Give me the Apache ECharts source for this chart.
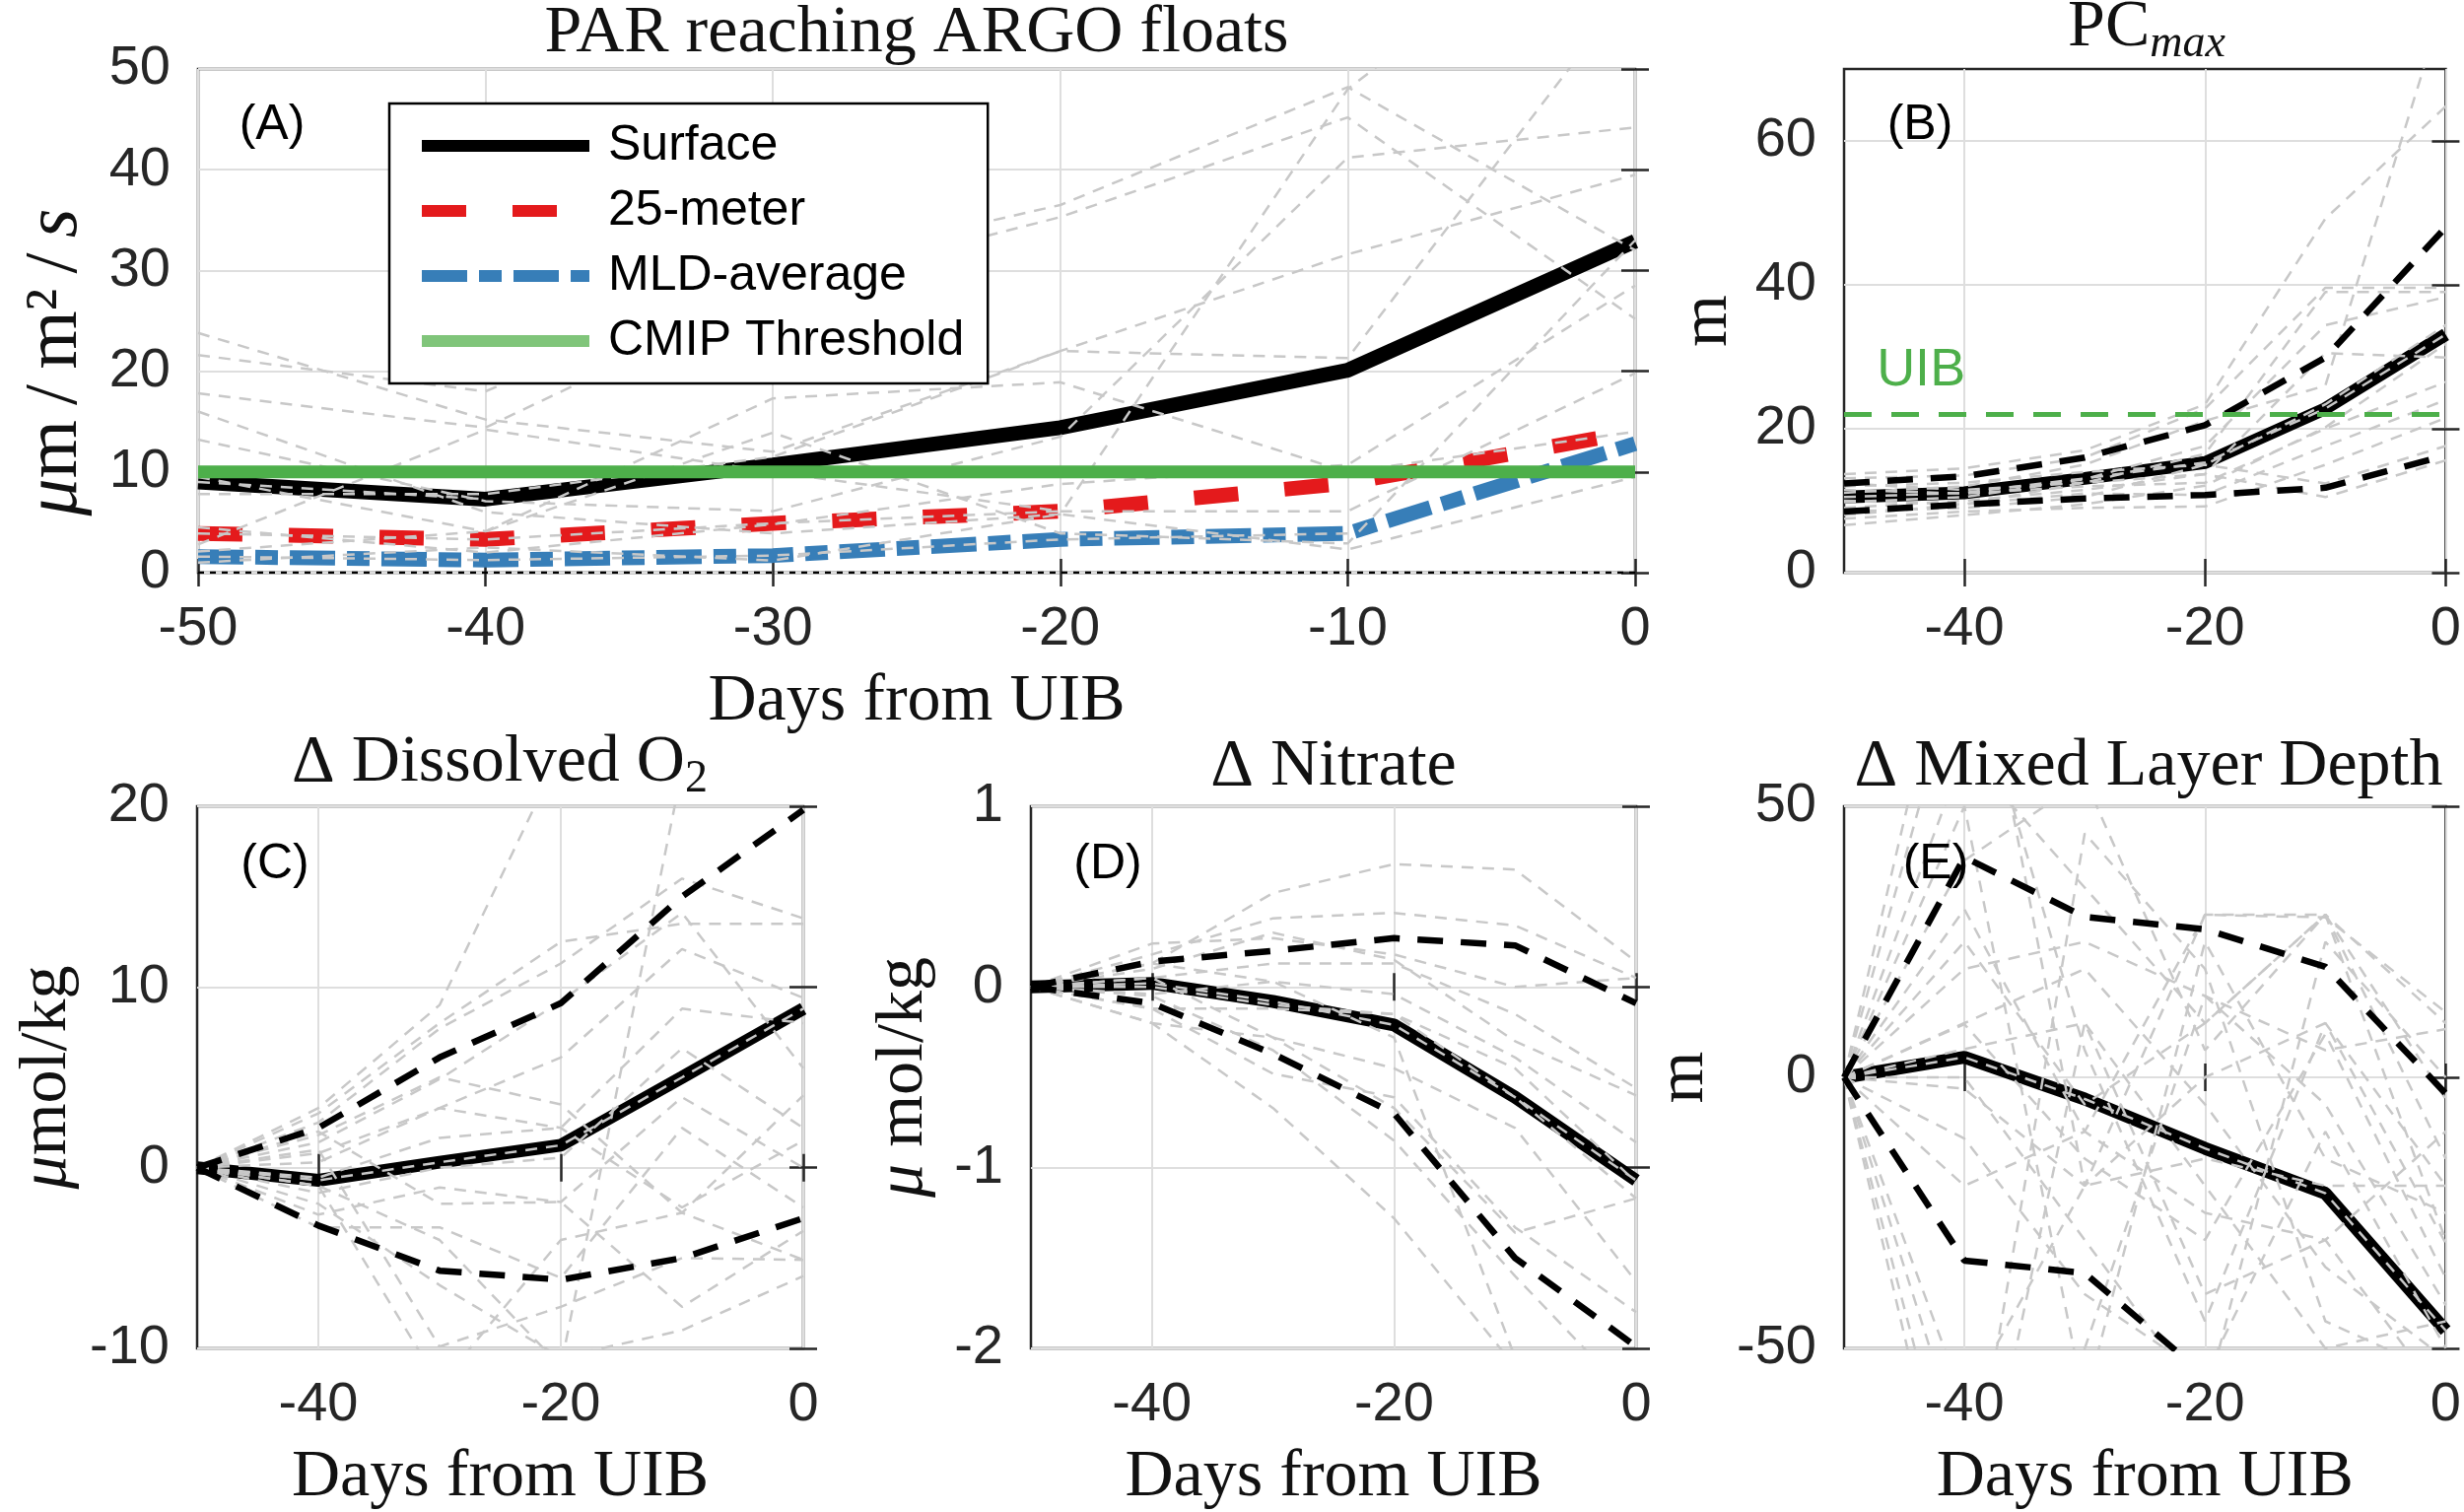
<!DOCTYPE html>
<html>
<head>
<meta charset="utf-8">
<script src="https://cdn.jsdelivr.net/npm/echarts@6/dist/echarts.min.js"></script>
<style>
  html, body { margin: 0; padding: 0; background: #fff; }
  #chart { width: 2500px; height: 1534px; }
</style>
</head>
<body>
<div id="chart"></div>
<script>
/* ------------------------------- data ------------------------------- */
const days = [-50, -40, -30, -20, -10, 0];

// (A) PAR reaching ARGO floats
const parSurface = [9.0, 7.3, 10.7, 14.4, 20.1, 32.9];
const par25m = [3.9, 3.3, 4.9, 6.1, 8.9, 14.0];
const parMld = [1.6, 1.25, 1.7, 3.3, 3.9, 12.8];
const cmipThreshold = [10, 10, 10, 10, 10, 10];
const parZero = [0, 0, 0, 0, 0, 0];
const parFloats = [
  [23.8, 15.2, 12.0, 22.0, 31.6, 39.5],
  [21.6, 18.0, 30.0, 36.5, 48.2, 32.0],
  [17.8, 14.4, 28.0, 35.3, 45.2, 25.2],
  [13.2, 7.1, 6.1, 13.5, 41.2, 44.2],
  [7.8, 7.8, 11.5, 22.0, 21.3, 58.6],
  [4.5, 2.0, 4.8, 8.8, 10.7, 28.5],
  [2.8, 14.2, 10.0, 6.1, 6.1, 19.8],
  [2.1, 4.1, 13.9, 3.9, 2.9, 33.0],
  [9.5, 4.1, 17.3, 18.9, 10.0, 14.0],
  [1.0, 2.5, 1.2, 5.8, 2.3, 9.5],
  [16.0, 6.0, 3.9, 5.8, 48.0, 70.0],
  [3.9, 3.3, 4.9, 6.1, null, null],
  [9.0, 7.3, null, null, null, null],
  [1.6, 1.25, 1.7, 3.3, 3.9, null]
];

// (B) PCmax
const pcMedian = [10.5, 11.1, 13.1, 15.3, 22.8, 33.1];
const pcUpper = [12.4, 13.4, 16.0, 20.5, 29.9, 48.0];
const pcLower = [8.5, 9.5, 10.3, 10.8, 11.8, 16.3];
const uibDepth = [22, 22, 22, 22, 22, 22];
const pcFloats = [
  [13.7, 14.5, 17.0, 23.4, 49.2, 64.8],
  [13.1, 13.5, 16.0, 22.8, 39.6, 39.6],
  [11.1, 12.0, 15.0, 21.1, 26.0, 80.0],
  [9.8, 10.5, 13.0, 17.6, 34.4, 38.3],
  [8.5, 9.0, 10.5, 15.0, 23.4, 34.4],
  [6.6, 8.0, 9.5, 12.1, 20.2, 31.8],
  [12.4, 11.5, 12.5, 13.7, 30.5, 29.9],
  [10.0, 9.5, 11.0, 10.8, 17.6, 24.0],
  [7.5, 8.5, 9.0, 9.2, 15.0, 21.5],
  [12.0, 12.5, 14.0, 15.0, 12.4, 17.6],
  [9.0, 10.0, 11.5, 13.7, 10.5, 15.6],
  [11.5, 11.0, 12.0, 12.5, 20.0, 26.5],
  [8.0, 9.5, 12.5, 16.5, 39.0, 39.0],
  [10.5, 11.1, 13.1, 15.3, 22.8, 33.1]
];

// (C) delta dissolved O2
const o2Median = [0, -0.7, 0.3, 1.24, 5.0, 8.8];
const o2Upper = [0, 2.2, 6.1, 9.1, 15.0, 19.8];
const o2Lower = [0, -3.2, -5.7, -6.2, -5.0, -2.8];
const o2Floats = [
  [0, 3.3, 9.0, 23.0, 30, 30],
  [0, 2.5, 7.7, 11.3, 16.0, 13.8],
  [0, 1.4, 4.9, 9.2, 14.1, 5.5],
  [0, 0.8, 3.3, 6.1, 12.1, 9.4],
  [0, -0.55, 1.65, 2.2, 8.8, 8.0],
  [0, -1.4, 0, 0.55, 6.6, 2.2],
  [0, -2.6, -1.1, -1.9, 3.9, 0],
  [0, -3.3, -3.3, -6.1, 2.2, -2.2],
  [0, 1.0, -9.9, -7.7, -5.0, -5.1],
  [0, -1.0, -4.0, -11.0, 22, 25],
  [0, 2.0, -2.0, -1.9, -7.7, -3.5],
  [0, 0.3, 3.3, 2.2, -2.2, 1.5],
  [0, -1.0, -12, -4.0, -2.5, 4.0],
  [0, 3.0, 8.0, 12.5, 13.5, 13.5],
  [0, -2.0, -6.5, -10.5, -9.0, -6.0],
  [0, 1.8, 5.0, 3.5, -2.5, -5.1],
  [0, -0.7, 0.3, 1.24, 5.0, 8.8]
];

// (D) delta nitrate
const no3Median = [0, 0.02, -0.08, -0.21, -0.61, -1.07];
const no3Upper = [0, 0.14, 0.2, 0.27, 0.23, -0.09];
const no3Lower = [0, -0.09, -0.37, -0.7, -1.5, -1.99];
const no3Floats = [
  [0, 0.13, 0.52, 0.68, 0.65, 0.14],
  [0, 0.18, 0.38, 0.41, 0.34, 0.05],
  [0, 0.24, 0.27, 0.18, 0.0, 0.05],
  [0, 0.05, 0.13, 0.13, -0.15, -0.56],
  [0, -0.04, 0.03, -0.04, -0.39, -0.86],
  [0, -0.12, -0.12, -0.15, -0.61, -1.17],
  [0, -0.2, -0.28, -0.45, -0.78, -1.63],
  [0, -0.12, -0.48, -0.61, -1.33, -1.8],
  [0, -0.2, -0.67, -1.28, -2.1, -2.5],
  [0, 0.05, -0.28, -0.67, -1.36, -1.17],
  [0, 0.13, 0.03, -0.28, -2.05, -2.4],
  [0, 0.0, -0.1, -0.15, -0.45, -1.08],
  [0, 0.1, 0.3, 0.15, -0.3, -0.6],
  [0, -0.05, -0.35, -0.85, -1.6, -2.3],
  [0, 0.02, -0.08, -0.21, -0.61, -1.07]
];

// (E) delta mixed layer depth
const mldMedian = [0, 3.7, -4.0, -13.1, -21.4, -46.7];
const mldUpper = [0, 40.6, 29.6, 27.3, 20.4, -3.0];
const mldLower = [0, -33.8, -36.1, -55, -62, -70];
const mldFloats = [
  [0, 60, 35, 10, 30, -15],
  [0, 40, 55, 5, 30, -30],
  [0, 31, -10, 30, 30, -4],
  [0, 20, 25, 15, 5, 8.9],
  [0, 9.8, -15, -30, 8, -37],
  [0, 5.2, 10, -20, -50, -45],
  [0, -2.1, -20, 0, 10, -30.6],
  [0, -11.3, -40, -55, -10, -50],
  [0, -60, -20, -15, -20, -20],
  [0, -70, -50, 15, -5, -42],
  [0, 0, -30, -60, 25, 0],
  [0, 50, -60, 25, -15, -25],
  [0, 10, 20, -5, -35, -52],
  [0, 95, -20, 30, 29.5, 12],
  [0, -95, 10, -40, -30, -10],
  [0, 80, 5, -45, 10, -20],
  [0, -85, 45, 20, -45, -55],
  [0, 25, -5, 10, 30, 10],
  [0, -20, -10, -25, -30, -60],
  [0, 3.7, -4.0, -13.1, -21.4, -46.7]
];

const dayTicks = [-40, -20, 0];
const pcTicks = [0, 20, 40, 60];
const uibLabelAt = [-43.6, 28];

/* ------------------------------ styling ------------------------------ */
const SANS = 'Liberation Sans';
const SERIF = 'Liberation Serif';
const INK = '#262626';
const GRAY = '#c8c8c8';
const GREEN = '#4daf4a';

const grids = [
  { left: 201, top: 70, width: 1458, height: 511 },
  { left: 1871, top: 70, width: 615, height: 511 },
  { left: 200, top: 818, width: 615, height: 551 },
  { left: 1046, top: 818, width: 614, height: 551 },
  { left: 1871, top: 818, width: 615, height: 551 }
].map((g) => ({ ...g, show: true, borderColor: INK, borderWidth: 2.5, backgroundColor: 'transparent' }));

const pairs = (ys) => days.map((d, i) => [d, ys[i]]);

const nameStyle = (size, padding) => ({
  fontFamily: SERIF,
  fontSize: size,
  color: '#111',
  padding: padding || 0,
  rich: {
    i: { fontFamily: SERIF, fontSize: size, fontStyle: 'italic', color: '#111' },
    r: { fontFamily: SERIF, fontSize: size, color: '#111' }
  }
});

const axisCommon = (gi, mirror) => ({
  gridIndex: gi,
  axisLine: { show: false },
  axisTick: { show: true, inside: true, length: 14, lineStyle: { color: INK, width: 2.5 } },
  axisLabel: mirror
    ? { show: false }
    : { show: true, fontFamily: SANS, fontSize: 56, color: INK, margin: 30 },
  splitLine: mirror ? { show: false } : { show: true, lineStyle: { color: '#dedede', width: 2 } }
});

const xAxis = [];
const yAxis = [];

function addX(gi, ticks, name, mirror) {
  const ax = {
    ...axisCommon(gi, mirror),
    type: 'value',
    min: -50,
    max: 0,
    position: mirror ? 'top' : 'bottom'
  };
  if (ticks) {
    ax.axisTick.customValues = ticks;
    if (!mirror) ax.axisLabel.customValues = ticks;
    ax.splitLine.customValues = ticks;
  } else {
    ax.interval = 10;
  }
  if (name && !mirror) {
    ax.name = name;
    ax.nameLocation = 'middle';
    ax.nameGap = 97;
    ax.nameTextStyle = nameStyle(68);
  }
  xAxis.push(ax);
}

function addY(gi, min, max, interval, ticks, name, gap, style, mirror) {
  const ax = {
    ...axisCommon(gi, mirror),
    type: 'value',
    min,
    max,
    position: mirror ? 'right' : 'left'
  };
  if (ticks) {
    ax.axisTick.customValues = ticks;
    if (!mirror) ax.axisLabel.customValues = ticks;
    ax.splitLine.customValues = ticks;
  } else {
    ax.interval = interval;
  }
  if (!mirror) {
    ax.axisLabel.margin = 28;
    ax.name = name;
    ax.nameLocation = 'middle';
    ax.nameRotate = 90;
    ax.nameGap = gap;
    ax.nameTextStyle = style;
  }
  yAxis.push(ax);
}

const DAYS = 'Days from UIB';
[false, true].forEach((mirror) => {
  addX(0, null, DAYS, mirror);
  addX(1, dayTicks, null, mirror);
  addX(2, dayTicks, DAYS, mirror);
  addX(3, dayTicks, DAYS, mirror);
  addX(4, dayTicks, DAYS, mirror);
  addY(0, 0, 50, 10, null, '{i|μ}{r|m\u2009/\u2009m²\u2009/\u2009}{i|s}', 106, nameStyle(76, [0, 84, 0, 0]), mirror);
  addY(1, 0, 70, 20, pcTicks, 'm', 104, nameStyle(68), mirror);
  addY(2, -10, 20, 10, null, '{i|μ}{r|mol/kg}', 118, nameStyle(68), mirror);
  addY(3, -2, 1, 1, null, '{i|μ}{r| mol/kg}', 95, nameStyle(68), mirror);
  addY(4, -50, 50, 50, null, 'm', 128, nameStyle(68), mirror);
});

/* ------------------------------ series ------------------------------ */
const series = [];

const line = (gi, ys, lineStyle, extra) => ({
  type: 'line',
  xAxisIndex: gi,
  yAxisIndex: gi,
  data: pairs(ys),
  symbol: 'none',
  silent: true,
  animation: false,
  color: lineStyle.color,
  itemStyle: { color: lineStyle.color },
  lineStyle,
  ...extra
});

const floats = (gi, list) =>
  list.forEach((ys) =>
    series.push(line(gi, ys, { color: GRAY, width: 2.5, type: [12, 9] }, { z: 3 }))
  );

// (A)
const surfaceStyle = { color: '#000', width: 15 };
const m25Style = { color: '#e41a1c', width: 15, type: [45, 47] };
const mldStyle = { color: '#377eb8', width: 15, type: [46, 12, 23, 12] };
const cmipStyle = { color: GREEN, width: 13 };
series.push(line(0, parZero, { color: '#000', width: 2.5, type: [6, 6] }, { z: 2 }));
series.push(line(0, parSurface, surfaceStyle, { name: 'Surface', z: 2 }));
series.push(line(0, par25m, m25Style, { name: '25-meter', z: 2 }));
series.push(line(0, parMld, mldStyle, { name: 'MLD-average', z: 2 }));
floats(0, parFloats);
series.push(line(0, cmipThreshold, cmipStyle, { name: 'CMIP Threshold', z: 5 }));

// (B)
const bounds = { color: '#000', width: 6.5, type: [26, 18] };
const median = { color: '#000', width: 13 };
series.push(line(1, pcMedian, median, { z: 2 }));
floats(1, pcFloats);
series.push(line(1, pcUpper, bounds, { z: 4 }));
series.push(line(1, pcLower, bounds, { z: 4 }));
series.push(line(1, uibDepth, { color: GREEN, width: 5, type: [28, 20] }, {
  z: 5,
  markPoint: {
    symbol: 'rect',
    symbolSize: 2,
    silent: true,
    animation: false,
    itemStyle: { color: 'rgba(0,0,0,0)' },
    label: {
      show: true,
      position: 'inside',
      formatter: 'UIB',
      fontFamily: SANS,
      fontSize: 54,
      color: GREEN
    },
    data: [{ coord: uibLabelAt }]
  }
}));

// (C)
series.push(line(2, o2Median, median, { z: 2 }));
floats(2, o2Floats);
series.push(line(2, o2Upper, bounds, { z: 4 }));
series.push(line(2, o2Lower, bounds, { z: 4 }));

// (D)
series.push(line(3, no3Median, median, { z: 2 }));
floats(3, no3Floats);
series.push(line(3, no3Upper, bounds, { z: 4 }));
series.push(line(3, no3Lower, bounds, { z: 4 }));

// (E)
series.push(line(4, mldMedian, median, { z: 2 }));
floats(4, mldFloats);
series.push(line(4, mldUpper, bounds, { z: 4 }));
series.push(line(4, mldLower, bounds, { z: 4 }));

/* ------------------------------ titles ------------------------------ */
const titleStyle = {
  fontFamily: SERIF,
  fontSize: 68,
  fontWeight: 'normal',
  color: '#111',
  rich: {
    t: { fontFamily: SERIF, fontSize: 68, color: '#111' },
    sub: { fontFamily: SERIF, fontSize: 46, fontStyle: 'italic', color: '#111', padding: [34, 0, 0, 0] },
    s2: { fontFamily: SERIF, fontSize: 46, color: '#111', padding: [34, 0, 0, 0] }
  }
};
const panelStyle = { fontFamily: SANS, fontSize: 50, fontWeight: 'normal', color: '#000' };

const title = [
  { text: 'PAR reaching ARGO floats', left: 930, top: 0, textAlign: 'center', textStyle: titleStyle },
  { text: '{t|PC}{sub|max}', left: 2178, top: -12, textAlign: 'center', textStyle: titleStyle },
  { text: '{t|Δ Dissolved O}{s2|2}', left: 507, top: 734, textAlign: 'center', textStyle: titleStyle },
  { text: 'Δ Nitrate', left: 1353, top: 744, textAlign: 'center', textStyle: titleStyle },
  { text: 'Δ Mixed Layer Depth', left: 2180, top: 744, textAlign: 'center', textStyle: titleStyle },
  { text: '(A)', left: 276, top: 102, textAlign: 'center', textStyle: panelStyle },
  { text: '(B)', left: 1948, top: 102, textAlign: 'center', textStyle: panelStyle },
  { text: '(C)', left: 279, top: 852, textAlign: 'center', textStyle: panelStyle },
  { text: '(D)', left: 1124, top: 852, textAlign: 'center', textStyle: panelStyle },
  { text: '(E)', left: 1964, top: 852, textAlign: 'center', textStyle: panelStyle }
].map((t) => ({ ...t, padding: 0 }));

/* ------------------------------- chart ------------------------------- */
const chart = echarts.init(document.getElementById('chart'), null, { renderer: 'canvas' });
chart.setOption({
  backgroundColor: '#fff',
  animation: false,
  title,
  legend: {
    orient: 'vertical',
    left: 395,
    top: 105,
    z: 10,
    backgroundColor: '#fff',
    borderColor: '#000',
    borderWidth: 2.5,
    borderRadius: 0,
    padding: [18, 24, 18, 27],
    itemWidth: 170,
    itemHeight: 14,
    itemGap: 16,
    selectedMode: false,
    itemStyle: { opacity: 0 },
    textStyle: { fontFamily: SANS, fontSize: 50, color: '#000', padding: [0, 0, 0, 14] },
    data: [
      { name: 'Surface', lineStyle: { ...surfaceStyle, width: 12 } },
      { name: '25-meter', lineStyle: { ...m25Style, width: 12 } },
      { name: 'MLD-average', lineStyle: { ...mldStyle, width: 12 } },
      { name: 'CMIP Threshold', lineStyle: { ...cmipStyle, width: 12, color: '#80c57a' } }
    ]
  },
  grid: grids,
  xAxis,
  yAxis,
  series
});
</script>
</body>
</html>
